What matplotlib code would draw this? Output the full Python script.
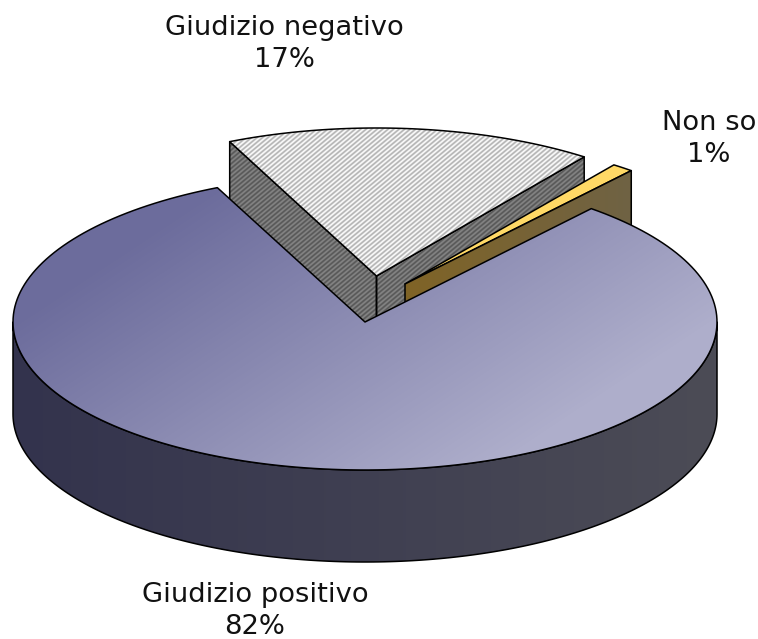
import numpy as np
import matplotlib
matplotlib.use("Agg")
import matplotlib.pyplot as plt
from matplotlib.colors import LinearSegmentedColormap
from matplotlib.patches import Polygon

labels = ["Giudizio positivo", "Giudizio negativo", "Non so"]
values = [82, 17, 1]
first_angle = 40  # gradi in senso orario dall'alto

W, H = 758, 639
CX, CY = 365, 322
RX, RY = 352, 148
DEPTH = 92
offsets = [(0, 0), (11.5, -46), (40, -38)]

xx, yy = np.meshgrid(np.arange(W) + 0.5, np.arange(H) + 0.5)


def rim_points(a0, a1, cx, cy, dy=0, rx=RX):
    t = np.radians(np.linspace(a0, a1, 200))
    return np.column_stack([cx + rx * np.sin(t), cy - RY * np.cos(t) + dy])


def fill(ax, pts, img, cmap=None, vmin=None, vmax=None, z=1):
    # immagine ritagliata sul poligono, poi il contorno nero
    poly = Polygon(pts, closed=True, facecolor="none", edgecolor="black", lw=1.1,
                   joinstyle="round", zorder=z + 0.5)
    ax.add_patch(poly)
    im = ax.imshow(img, extent=(0, W, H, 0), aspect="auto", cmap=cmap,
                   vmin=vmin, vmax=vmax, interpolation="bilinear", zorder=z)
    im.set_clip_path(poly)


def flat(ax, pts, color, z=1):
    ax.add_patch(Polygon(pts, closed=True, facecolor=color, edgecolor="black",
                         lw=1.1, joinstyle="round", zorder=z))


# angoli delle fette a partire dai valori
spans = [v / sum(values) * 360 for v in values]
starts = first_angle + np.cumsum([0] + spans[:-1])
ends = starts + np.array(spans)

fig = plt.figure(figsize=(W / 100, H / 100), dpi=100)
ax = fig.add_axes([0, 0, 1, 1])

# trame e sfumature
stripes = 0.5 + 0.5 * np.sin(2 * np.pi * (xx + 1.2 * yy) / 5.5)
top_cmap = LinearSegmentedColormap.from_list("top", ["#6c6c9c", "#aeaecb"])
rim_cmap = LinearSegmentedColormap.from_list("rim", ["#33334d", "#4c4c56"])
grey_top = LinearSegmentedColormap.from_list("gt", ["#b4b4b4", "#fbfbfb"])
grey_wall = LinearSegmentedColormap.from_list("gw", ["#585858", "#848484"])
brown = LinearSegmentedColormap.from_list("br", ["#806426", "#6f6244"])

# Giudizio negativo
cx, cy = CX + offsets[1][0], CY + offsets[1][1]
arc = rim_points(starts[1], ends[1], cx, cy, rx=RX - 2)
apex = np.array([[cx, cy]])
for edge in (arc[0], arc[-1]):
    wall = np.vstack([apex, [edge], edge + [0, DEPTH], apex + [0, DEPTH]])
    fill(ax, wall, stripes, grey_wall, 0, 1, z=1)
fill(ax, np.vstack([apex, arc]), stripes, grey_top, 0, 1, z=2)

# Non so
cx, cy = CX + offsets[2][0], CY + offsets[2][1]
arc = rim_points(starts[2], ends[2], cx, cy)
apex = np.array([[cx, cy]])
flat(ax, np.vstack([apex, arc]), "#ffd966", z=3)
wall = np.vstack([apex, [arc[-1]], arc[-1] + [0, DEPTH], apex + [0, DEPTH]])
fill(ax, wall, xx, brown, 405, 631, z=4)

# Giudizio positivo
rim_top = rim_points(90, 270, CX, CY)
rim_bottom = rim_points(270, 90, CX, CY, DEPTH)
fill(ax, np.vstack([rim_top, rim_bottom]), xx, rim_cmap, 13, 717, z=5)
arc = rim_points(starts[0], ends[0], CX, CY)
fill(ax, np.vstack([[CX, CY], arc]), 0.55 * xx + 0.83 * yy, top_cmap, 274, 659, z=6)

# etichette
text_pos = [(255, 611), (284, 44), (709, 139)]
for name, val, (tx, ty) in zip(labels, values, text_pos):
    ax.text(tx, ty, f"{name}\n{val}%", ha="center", va="center", fontsize=19.7,
            family="DejaVu Sans", color="#111111", linespacing=1.26, zorder=10)

ax.set_xlim(0, W)
ax.set_ylim(H, 0)
ax.axis("off")
fig.savefig("out.png", dpi=100, facecolor="white")
